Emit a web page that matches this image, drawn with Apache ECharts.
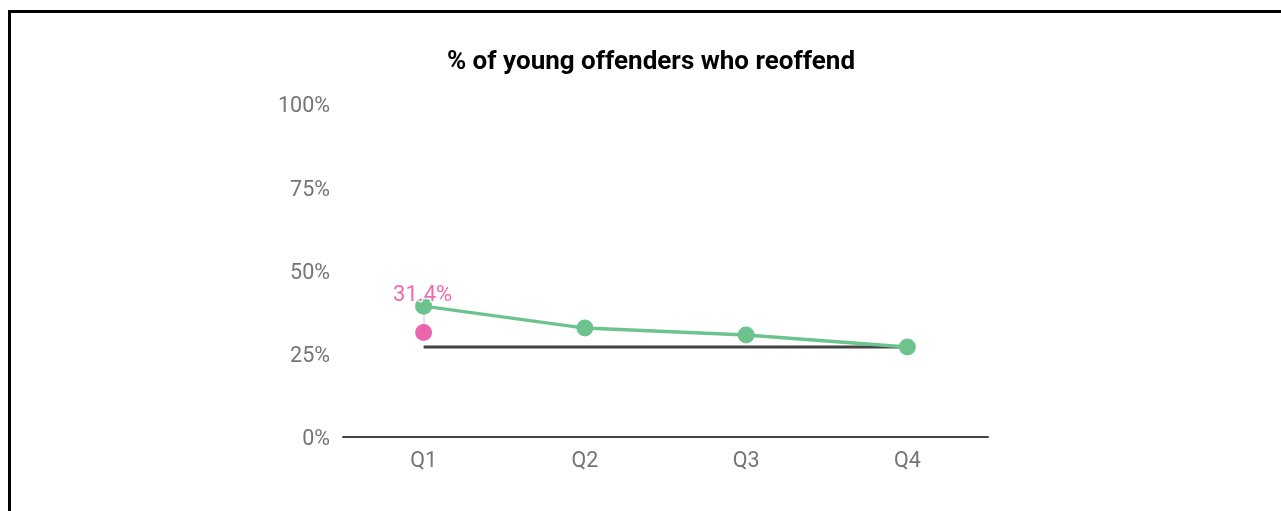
<!DOCTYPE html>
<html>
<head>
<meta charset="utf-8">
<style>
  html, body { margin: 0; padding: 0; background: #fff; }
  #frame { position: absolute; left: 8px; top: 10px; width: 1400px; height: 600px;
           border-top: 3px solid #000; border-left: 3px solid #000; }
  #chart { position: absolute; left: 0; top: 0; width: 1281px; height: 511px; }
</style>
<script src="https://cdn.jsdelivr.net/npm/echarts@6/dist/echarts.min.js"></script>
</head>
<body>
<div id="frame"></div>
<div id="chart"></div>
<script>
const categories = ['Q1', 'Q2', 'Q3', 'Q4'];
const reoffendRate = [39.3, 32.7, 30.6, 27.0];
const targetRate = [27.0, 27.0, 27.0, 27.0];
const highlightValue = [31.4, null, null, null];
const yTicks = [0, 25, 50, 75, 100];

const chart = echarts.init(document.getElementById('chart'), null, { renderer: 'canvas' });
chart.setOption({
  animation: false,
  backgroundColor: 'transparent',
  title: {
    text: '% of young offenders who reoffend',
    left: 646, top: 44, textAlign: 'center',
    textStyle: { fontFamily: 'Roboto', fontWeight: 'bold', fontSize: 26, color: '#000' }
  },
  grid: { left: 343, right: 293, top: 104, bottom: 74, containLabel: false },
  xAxis: {
    type: 'category', data: categories, boundaryGap: true,
    axisLine: { lineStyle: { color: '#444', width: 2 } },
    axisTick: { show: false },
    axisLabel: { color: '#757575', fontFamily: 'Roboto', fontSize: 21.5, margin: 14 }
  },
  yAxis: {
    type: 'value', min: yTicks[0], max: yTicks[yTicks.length - 1], interval: 25,
    axisLine: { show: false }, axisTick: { show: false }, splitLine: { show: false },
    axisLabel: {
      margin: 13,
      formatter: v => '{a|' + v + '%}',
      rich: { a: { color: '#757575', fontFamily: 'Roboto', fontSize: 21.5, padding: [6, 0, 0, 0] } }
    }
  },
  series: [
    {
      name: 'Target', type: 'line', data: targetRate, z: 2,
      symbol: 'none', lineStyle: { color: '#444', width: 3 }, silent: true
    },
    {
      name: 'Reoffend', type: 'line', data: reoffendRate, z: 3,
      symbol: 'circle', symbolSize: 17,
      itemStyle: { color: '#6dc38d' }, lineStyle: { color: '#6dc38d', width: 3.5 }
    },
    {
      name: 'Latest', type: 'scatter', data: highlightValue, z: 4,
      symbolSize: 17, itemStyle: { color: '#e53e98' },
      label: {
        show: true, position: 'inside', offset: [-1, -37],
        formatter: p => p.value + '%',
        color: '#e8449c', fontFamily: 'Roboto', fontSize: 22,
        textBorderColor: '#fff', textBorderWidth: 3
      },
      markLine: {
        silent: true, symbol: ['none', 'none'], label: { show: false },
        lineStyle: { color: '#dcdcdc', width: 1.5, type: 'solid' },
        z: 1,
        data: [[{ coord: [categories[0], highlightValue[0]] }, { coord: [categories[0], reoffendRate[0]] }]]
      }
    }
  ]
});
</script>
</body>
</html>
